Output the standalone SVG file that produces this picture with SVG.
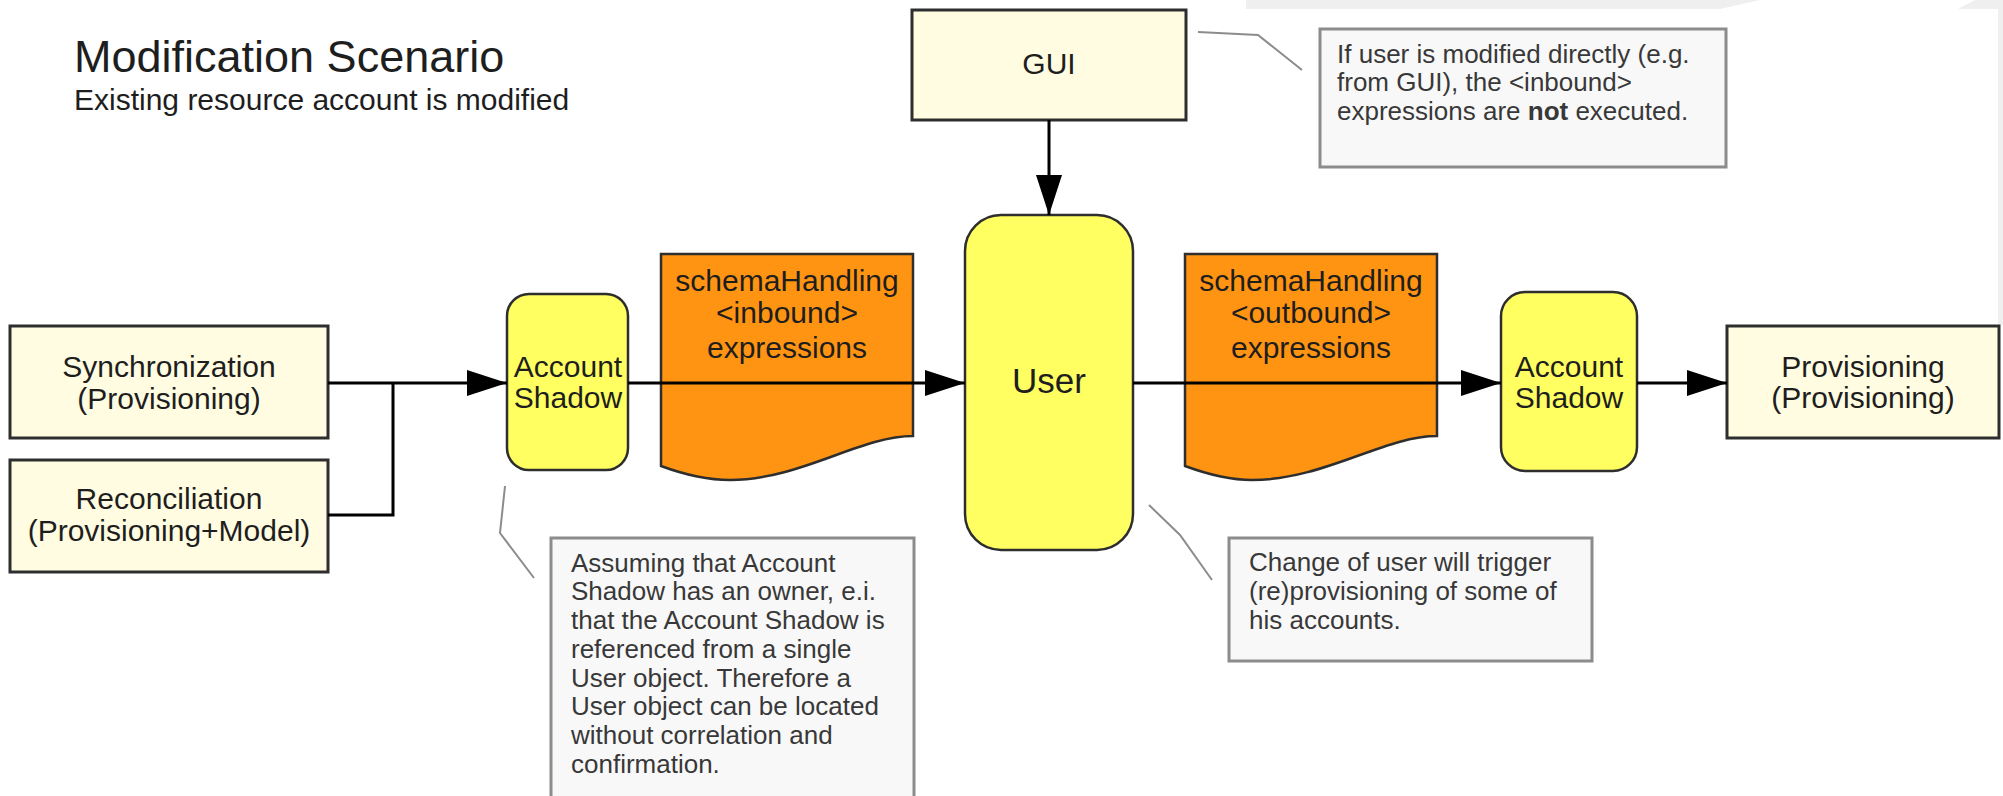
<svg xmlns="http://www.w3.org/2000/svg" width="2003" height="796" viewBox="0 0 2003 796">
<style>
text{font-family:"Liberation Sans",Arial,sans-serif;fill:#1e1e1e}
.t{font-size:30px;text-anchor:middle}
.n{font-size:26px;fill:#383838}
.cream{fill:#FFFCE1;stroke:#2e2e2e;stroke-width:3}
.yel{fill:#FFFF62;stroke:#2e2e2e;stroke-width:2.5}
.doc{fill:#FF9312;stroke:#2e2e2e;stroke-width:2.5}
.note{fill:#F8F8F8;stroke:#8c8c8c;stroke-width:3}
.con{fill:none;stroke:#000;stroke-width:3}
.lead{fill:none;stroke:#8c8c8c;stroke-width:2}
</style>
<defs>
<marker id="arr" markerUnits="userSpaceOnUse" markerWidth="40" markerHeight="26" refX="40" refY="13" orient="auto">
<path d="M0,0 L40,13 L0,26 Z" fill="#000"/>
</marker>
</defs>
<rect width="2003" height="796" fill="#fff"/>
<g id="bg-strip" fill="#EFEFEF">
<polygon points="1246,0 1760,0 1720,9 1246,9"/>
<polygon points="1975,0 2003,0 2003,325 1998,325 1998,9 1958,9"/>
</g>
<g id="title">
<text x="74" y="72" style="font-size:45px">Modification Scenario</text>
<text x="74" y="110" style="font-size:30px">Existing resource account is modified</text>
</g>
<g id="sync">
<rect class="cream" x="10" y="326" width="318" height="112"/>
<text class="t" x="169" y="377">Synchronization</text>
<text class="t" x="169" y="409">(Provisioning)</text>
</g>
<g id="recon">
<rect class="cream" x="10" y="460" width="318" height="112"/>
<text class="t" x="169" y="509">Reconciliation</text>
<text class="t" x="169" y="541">(Provisioning+Model)</text>
</g>
<g id="shadow-left">
<rect class="yel" x="507" y="294" width="121" height="176" rx="22"/>
<text class="t" x="568" y="377">Account</text>
<text class="t" x="568" y="408">Shadow</text>
</g>
<g id="inbound">
<path class="doc" d="M661,254 H913 V436 C860,436 800,480 730,480 C705,480 680,473 661,466 Z"/>
<text class="t" x="787" y="291">schemaHandling</text>
<text class="t" x="787" y="323">&lt;inbound&gt;</text>
<text class="t" x="787" y="358">expressions</text>
</g>
<g id="gui">
<rect class="cream" x="912" y="10" width="274" height="110"/>
<text class="t" x="1049" y="74">GUI</text>
</g>
<g id="user">
<rect class="yel" x="965" y="215" width="168" height="335" rx="36"/>
<text class="t" x="1049" y="393" style="font-size:35px">User</text>
</g>
<g id="outbound">
<path class="doc" d="M1185,254 H1437 V436 C1384,436 1324,480 1252,480 C1228,480 1204,473 1185,466 Z"/>
<text class="t" x="1311" y="291">schemaHandling</text>
<text class="t" x="1311" y="323">&lt;outbound&gt;</text>
<text class="t" x="1311" y="358">expressions</text>
</g>
<g id="shadow-right">
<rect class="yel" x="1501" y="292" width="136" height="179" rx="24"/>
<text class="t" x="1569" y="377">Account</text>
<text class="t" x="1569" y="408">Shadow</text>
</g>
<g id="provisioning">
<rect class="cream" x="1727" y="326" width="272" height="112"/>
<text class="t" x="1863" y="377">Provisioning</text>
<text class="t" x="1863" y="408">(Provisioning)</text>
</g>
<g id="note-gui">
<rect class="note" x="1320" y="29" width="406" height="138"/>
<text class="n" x="1337" y="63">If user is modified directly (e.g.</text>
<text class="n" x="1337" y="91">from GUI), the &lt;inbound&gt;</text>
<text class="n" x="1337" y="120">expressions are <tspan font-weight="bold">not</tspan> executed.</text>
</g>
<g id="note-shadow">
<rect class="note" x="551" y="538" width="363" height="270"/>
<text class="n" x="571" y="572">Assuming that Account</text>
<text class="n" x="571" y="600">Shadow has an owner, e.i.</text>
<text class="n" x="571" y="629">that the Account Shadow is</text>
<text class="n" x="571" y="658">referenced from a single</text>
<text class="n" x="571" y="687">User object. Therefore a</text>
<text class="n" x="571" y="715">User object can be located</text>
<text class="n" x="571" y="744">without correlation and</text>
<text class="n" x="571" y="773">confirmation.</text>
</g>
<g id="note-user">
<rect class="note" x="1229" y="538" width="363" height="123"/>
<text class="n" x="1249" y="571">Change of user will trigger</text>
<text class="n" x="1249" y="600">(re)provisioning of some of</text>
<text class="n" x="1249" y="629">his accounts.</text>
</g>
<g id="connectors">
<path class="con" d="M328,383 H507" marker-end="url(#arr)"/>
<path class="con" d="M328,515 H393 V383"/>
<path class="con" d="M628,383 H965" marker-end="url(#arr)"/>
<path class="con" d="M1049,120 V215" marker-end="url(#arr)"/>
<path class="con" d="M1133,383 H1501" marker-end="url(#arr)"/>
<path class="con" d="M1637,383 H1727" marker-end="url(#arr)"/>
<polyline class="lead" points="1198,32 1258,35 1302,70"/>
<polyline class="lead" points="505,486 500,533 534,578"/>
<polyline class="lead" points="1149,505 1180,535 1212,580"/>
</g>
</svg>
